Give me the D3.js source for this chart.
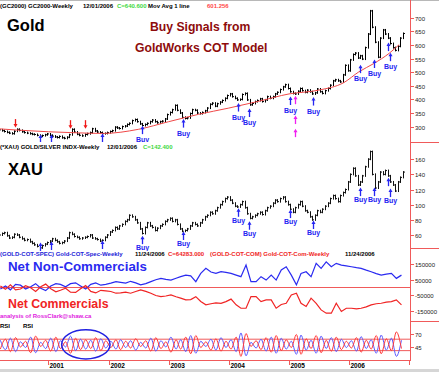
<!DOCTYPE html>
<html>
<head>
<meta charset="utf-8">
<script src="https://cdn.jsdelivr.net/npm/d3@7"></script>
<style>
  body { margin: 0; background: #fff; }
  svg { display: block; font-family: Arial, "Liberation Sans", sans-serif; }
</style>
</head>
<body>
<svg id="chart" width="439" height="372"></svg>
<script>
// semi-monthly gold closes, Mar 2000 .. Nov 2006
const goldClose = [
  288, 285, 282, 279, 276, 274, 283, 290, 286, 281, 278, 276, 274, 272, 271, 268, 265, 267, 270, 273,
  268, 265, 262, 260, 264, 259, 257, 261, 270, 290, 280, 272, 268, 266, 271, 274, 278, 292, 284, 280, 278, 274, 275, 278,
  282, 285, 298, 295, 293, 300, 302, 308, 312, 322, 326, 318, 310, 304, 308, 312, 318, 324, 318, 314, 318, 320, 328, 344,
  352, 362, 378, 360, 350, 334, 330, 332, 348, 362, 360, 350, 348, 352, 358, 368, 382, 386, 375, 384, 390, 396, 404, 414,
  420, 410, 404, 398, 400, 418, 422, 398, 380, 385, 392, 396, 402, 392, 398, 410, 404, 410, 420, 426, 436, 446, 454, 440,
  428, 422, 420, 430, 440, 432, 426, 434, 428, 420, 424, 438, 428, 422, 432, 440, 452, 468, 472, 468, 464, 490, 525, 505,
  545, 565, 570, 552, 560, 548, 590, 640, 725, 665, 610, 555, 625, 655, 640, 625, 605, 590, 580, 595, 625, 642
]
// semi-monthly XAU closes, same dates
const xauClose = [
  60, 62, 63, 59, 56, 57, 61, 60, 57, 55, 53, 54, 51, 49, 47, 45, 43, 46, 48, 50,
  52, 55, 53, 51, 49, 50, 52, 56, 63, 61, 58, 57, 55, 56, 57, 58, 60, 56, 55, 54, 52, 53, 57, 60,
  64, 66, 70, 68, 72, 74, 78, 80, 86, 84, 80, 76, 68, 62, 70, 76, 72, 70, 66, 69, 72, 74, 78, 80,
  82, 78, 80, 74, 68, 65, 66, 68, 72, 76, 74, 72, 76, 80, 84, 86, 90, 88, 92, 96, 100, 104, 108, 110,
  106, 102, 98, 97, 100, 104, 96, 88, 82, 84, 86, 88, 90, 87, 92, 96, 98, 102, 106, 104, 108, 110, 104, 100,
  94, 90, 96, 100, 104, 98, 92, 90, 84, 80, 86, 92, 90, 94, 98, 102, 108, 112, 108, 104, 112, 116, 120, 130,
  140, 148, 138, 126, 130, 138, 150, 160, 170, 140, 122, 130, 143, 140, 145, 138, 130, 126, 118, 130, 136, 143
]
// gold moving average, read at a few dates
const maMonths = ['2000-03', '2000-07', '2001-01', '2001-07', '2001-12', '2002-07', '2003-01', '2003-07',
  '2004-01', '2004-07', '2005-01', '2005-07', '2005-12', '2006-03', '2006-06', '2006-09', '2006-11']
const maValues = [292, 287, 281, 277, 275, 290, 318, 345, 368, 393, 420, 434, 462, 501, 532, 569, 601]

// monthly COT net positions (thousands), Mar 2000 .. Nov 2006
const netSpec = [
  -10, 10, -15, 20, 15, -10, 5, 25, -5, -20,
  10, 25, 20, 5, 25, 30, 10, -10, 20, 30, 15, 20,
  28, 38, 33, 28, 40, 30, 17, 25, 38, 50, 59, 52,
  48, 60, 70, 80, 75, 38, 91, 124, 100, 91, 102, 98,
  91, 80, 70, 145, 38, 38, 70, 48, 80, 48, 113, 134,
  80, 17, 91, 102, 70, 156, 124, 166, 134, 156, 145, 140,
  134, 128, 124, 112, 102, 90, 80, 86, 91, 59, 80
]
const netComm = [
  10, -12, 18, -15, -10, 12, -2, -25, 5, 22,
  -8, -28, -18, -5, -30, -32, -8, 12, -25, -35, -18, -22,
  -26, -37, -35, -30, -37, -26, -15, -25, -37, -52, -59, -55,
  -48, -60, -69, -80, -78, -59, -90, -112, -105, -100, -102, -91,
  -75, -112, -134, -134, -59, -59, -91, -80, -80, -134, -110, -102,
  -48, -37, -102, -123, -69, -102, -145, -166, -166, -102, -155, -134,
  -134, -138, -134, -125, -112, -105, -102, -95, -91, -80, -112
]
// monthly RSI of the two COT series
const rsiSpec = [
  58, 40, 62, 36, 55, 44, 64, 34, 54, 42,
  62, 36, 57, 45, 66, 38, 60, 41, 58, 37, 61, 43,
  56, 41, 59, 44, 57, 39, 54, 43, 62, 37, 57, 45,
  64, 41, 59, 36, 67, 33, 56, 46, 60, 39, 63, 44,
  59, 36, 72, 28, 54, 43, 60, 37, 64, 33, 62, 41,
  56, 31, 68, 39, 58, 33, 66, 42, 63, 36, 60, 44,
  57, 37, 65, 42, 59, 33, 68, 39, 62, 27, 58
]
const rsiComm = [
  41, 60, 36, 63, 45, 56, 34, 66, 46, 58,
  37, 64, 42, 55, 33, 62, 40, 59, 42, 63, 38, 57,
  44, 59, 40, 56, 43, 61, 46, 57, 37, 63, 42, 55,
  35, 59, 41, 64, 32, 67, 44, 55, 39, 61, 37, 56,
  41, 64, 27, 71, 46, 57, 40, 63, 35, 67, 38, 59,
  44, 69, 31, 61, 42, 67, 34, 58, 37, 64, 40, 56,
  43, 63, 35, 58, 41, 67, 32, 61, 38, 74, 42
]
const rsiBands = [60, 38]

// COT buy signals, shown in both price panels
const buyDates = ['2000-11-11', '2001-01-15', '2001-11-23', '2002-07-24', '2003-03-28', '2004-02-25', '2004-05-06',
  '2005-01-05', '2005-05-25', '2006-03-07', '2006-05-31', '2006-08-24', '2006-09-08']
const goldBuyLabeled = [0, 0, 0, 1, 1, 1, 1, 1, 1, 1, 1, 0, 1]
const xauBuyLabeled = [0, 0, 0, 1, 1, 1, 1, 1, 1, 1, 1, 0, 1]
const goldBuyLevels = [254, 254, 258, 287, 311, 370, 350, 394, 392, 511, 530, 592, 555]
const xauBuyLevels = [44.2, 45.5, 46.8, 53.2, 58.7, 89.3, 72.2, 87.6, 73.2, 116.6, 116.6, 129.7, 115.3]
const extraBuyDates = ['2005-02-04', '2005-02-04', '2005-02-04']
const extraBuyLevels = [397, 324, 276]
const sellDates = ['2000-06-12', '2001-05-13', '2001-08-12']
const sellLevels = [313, 309, 309]

const goldTicks = [300, 350, 400, 450, 500, 550, 600, 650, 700]
const xauTicks = [60, 80, 100, 120, 140, 160]
const cotTicks = [150, 50, -50, -150]
const rsiTicks = [70, 45]

const AXIS_RED = '#f05a5a'
const svg = d3.select('#chart')
const parseDay = d3.timeParse('%Y-%m-%d')
const parseMonth = d3.timeParse('%Y-%m')

const halfMonths = d3.range(goldClose.length).map(i => new Date(2000, 2 + Math.floor(i / 2), i % 2 ? 23 : 8))
const months = d3.range(netSpec.length).map(i => new Date(2000, 2 + i, 15))

const x = d3.scaleTime().domain([new Date(2000, 0, 1), new Date(2007, 0, 1)]).range([-11.8, 409.2])
const yGold = d3.scaleLinear().domain([300, 700]).range([126.6, 17.7])
const yXau = d3.scaleLinear().domain([60, 160]).range([235, 159.2])
const yCot = d3.scaleLinear().domain([-150, 150]).range([310.7, 264.3])
const yRsi = d3.scaleLinear().domain([45, 70]).range([347, 334])

const defs = svg.append('defs')
function clip (id, y0, y1) {
  defs.append('clipPath').attr('id', id)
    .append('rect').attr('x', 0).attr('y', y0).attr('width', 410).attr('height', y1 - y0)
  return svg.append('g').attr('clip-path', `url(#${id})`)
}

function text (g, str, px, py, opts = {}) {
  return g.append('text')
    .attr('x', px).attr('y', py)
    .attr('font-size', opts.size || 6)
    .attr('font-weight', opts.weight || 'bold')
    .attr('fill', opts.fill || '#000')
    .attr('text-anchor', opts.anchor || 'start')
    .text(str)
}

// frame line on top
svg.append('line').attr('x1', 0).attr('x2', 439).attr('y1', 0.5).attr('y2', 0.5).attr('stroke', '#b8b8b8')

// ---- bars
function drawBars (g, vals, y, color) {
  g.append('g').selectAll('line').data(vals).join('line')
    .attr('x1', (d, i) => Math.round(x(halfMonths[i])) + 0.5)
    .attr('x2', (d, i) => Math.round(x(halfMonths[i])) + 0.5)
    .attr('y1', (d, i) => y(Math.max(d, i ? vals[i - 1] : d)) - 1)
    .attr('y2', (d, i) => y(Math.min(d, i ? vals[i - 1] : d)) + 1)
    .attr('stroke', color).attr('stroke-width', 1)
  g.append('g').selectAll('line').data(vals).join('line')
    .attr('x1', (d, i) => Math.round(x(halfMonths[i])) + 1)
    .attr('x2', (d, i) => Math.round(x(halfMonths[i])) + 2)
    .attr('y1', d => y(d)).attr('y2', d => y(d))
    .attr('stroke', color).attr('stroke-width', 1)
}

function upArrow (g, px, py, color) {
  g.append('path')
    .attr('d', `M${px},${py + 4}V${py - 2}`)
    .attr('stroke', color).attr('stroke-width', 1.3)
  g.append('path')
    .attr('d', `M${px - 2},${py - 1}L${px},${py - 4.5}L${px + 2},${py - 1}Z`)
    .attr('fill', color)
}
function downArrow (g, px, py, color) {
  g.append('path')
    .attr('d', `M${px},${py - 4}V${py + 2}`)
    .attr('stroke', color).attr('stroke-width', 1.3)
  g.append('path')
    .attr('d', `M${px - 2},${py + 1}L${px},${py + 4.5}L${px + 2},${py + 1}Z`)
    .attr('fill', color)
}

function drawBuys (g, levels, labeled, y, gap) {
  buyDates.forEach((s, i) => {
    const px = Math.round(x(parseDay(s))) + 0.5
    const py = y(levels[i])
    upArrow(g, px, py, '#2626f2')
    if (labeled[i]) text(g, 'Buy', px, py + gap, { size: 7, fill: '#2626f2', anchor: 'middle' })
  })
}

// ---- gold panel
const gGold = clip('cg', 9, 142)
drawBars(gGold, goldClose, yGold, '#000')
gGold.append('path')
  .datum(maMonths.map((m, i) => [parseMonth(m), maValues[i]]))
  .attr('fill', 'none').attr('stroke', '#f04848').attr('stroke-width', 1)
  .attr('d', d3.line().x(d => x(d[0])).y(d => yGold(d[1])).curve(d3.curveMonotoneX))
drawBuys(gGold, goldBuyLevels, goldBuyLabeled, yGold, 12)
extraBuyDates.forEach((s, i) => upArrow(gGold, Math.round(x(parseDay(s))) + 0.5, yGold(extraBuyLevels[i]), '#f020f0'))
sellDates.forEach((s, i) => downArrow(gGold, Math.round(x(parseDay(s))) + 0.5, yGold(sellLevels[i]), '#f01818'))

// ---- xau panel
const gXau = clip('cx', 150, 251)
drawBars(gXau, xauClose, yXau, '#111')
drawBuys(gXau, xauBuyLevels, xauBuyLabeled, yXau, 10)

// ---- cot panel
const gCot = clip('cc', 257, 321)
gCot.append('line').attr('x1', 0).attr('x2', 410)
  .attr('y1', yCot(0)).attr('y2', yCot(0)).attr('stroke', AXIS_RED)
const cotLine = d3.line().x((d, i) => x(months[i])).y(d => yCot(d))
gCot.append('path').datum(netSpec).attr('fill', 'none')
  .attr('stroke', '#2a2af0').attr('stroke-width', 1.2).attr('d', cotLine)
gCot.append('path').datum(netComm).attr('fill', 'none')
  .attr('stroke', '#f02424').attr('stroke-width', 1.2).attr('d', cotLine)

// ---- rsi panel
const gRsi = clip('cr', 328, 361)
rsiBands.forEach(v => {
  gRsi.append('line').attr('x1', 0).attr('x2', 410)
    .attr('y1', yRsi(v)).attr('y2', yRsi(v)).attr('stroke', AXIS_RED)
})
const rsiLine = d3.line().x((d, i) => x(months[i])).y(d => yRsi(d)).curve(d3.curveMonotoneX)
gRsi.append('path').datum(rsiSpec).attr('fill', 'none')
  .attr('stroke', '#5a5aff').attr('stroke-width', 1).attr('d', rsiLine)
gRsi.append('path').datum(rsiComm).attr('fill', 'none')
  .attr('stroke', '#ff3838').attr('stroke-width', 1).attr('d', rsiLine)
const e0 = x(parseDay('2001-03-22'))
const e1 = x(parseDay('2002-01-10'))
svg.append('ellipse')
  .attr('cx', (e0 + e1) / 2).attr('cy', (yRsi(78) + yRsi(22)) / 2)
  .attr('rx', (e1 - e0) / 2).attr('ry', (yRsi(22) - yRsi(78)) / 2)
  .attr('fill', 'none').attr('stroke', '#2020e0').attr('stroke-width', 1.5)

// ---- right axis and separators
svg.append('line').attr('x1', 410.5).attr('x2', 410.5).attr('y1', 0).attr('y2', 361).attr('stroke', AXIS_RED)
;[142, 248, 321].forEach(v => {
  svg.append('line').attr('x1', 410).attr('x2', 439).attr('y1', v + 0.5).attr('y2', v + 0.5).attr('stroke', AXIS_RED)
})
function rightAxis (ticks, y, fmt) {
  ticks.forEach(t => {
    const py = Math.round(y(t)) + 0.5
    svg.append('line').attr('x1', 410).attr('x2', 414).attr('y1', py).attr('y2', py).attr('stroke', AXIS_RED)
    text(svg, fmt ? fmt(t) : t, 415, py + 2.2, { weight: 'normal', fill: '#222' })
  })
}
rightAxis(goldTicks, yGold)
rightAxis(xauTicks, yXau)
rightAxis(cotTicks, yCot, d => d * 1000)
rightAxis(rsiTicks, yRsi)

// ---- time axis
svg.append('line').attr('x1', 0).attr('x2', 410).attr('y1', 360.5).attr('y2', 360.5).attr('stroke', AXIS_RED)
d3.timeYear.range(new Date(2001, 0, 1), new Date(2007, 0, 2)).forEach(d => {
  const px = Math.round(x(d)) + 0.5
  svg.append('line').attr('x1', px).attr('x2', px).attr('y1', 360).attr('y2', 365).attr('stroke', AXIS_RED)
  if (d.getFullYear() < 2007) text(svg, d.getFullYear(), px + 1, 367.5, { size: 6.5 })
})
svg.append('rect').attr('x', 0).attr('y', 369).attr('width', 439).attr('height', 3).attr('fill', '#d6d6d6')

// ---- header texts
text(svg, '(GC2000) GC2000-Weekly', 0, 8)
text(svg, '12/01/2006', 83, 8)
text(svg, 'C=640.600', 117, 8, { fill: '#3ed83e' })
text(svg, 'Mov Avg 1 line', 148, 8)
text(svg, '601.256', 207, 8, { fill: '#ff4848' })

text(svg, 'Gold', 7, 31, { size: 16.5 })
text(svg, 'Buy Signals from', 150, 31, { size: 12.2, fill: '#8e0c0c' })
text(svg, 'GoldWorks COT Model', 135, 52, { size: 12.2, fill: '#8e0c0c' })

text(svg, '(*XAU) GOLD/SILVER INDX-Weekly', 0, 149)
text(svg, '12/01/2006', 107, 149)
text(svg, 'C=142.400', 143, 149, { fill: '#3ed83e' })
text(svg, 'XAU', 8, 175, { size: 16.5 })

text(svg, '(GOLD-COT-SPEC) Gold-COT-Spec-Weekly', 0, 256, { fill: '#2323d8' })
text(svg, '11/24/2006', 135, 256)
text(svg, 'C=64283.000', 168, 256, { fill: '#f02424' })
text(svg, '(GOLD-COT-COM) Gold-COT-Com-Weekly', 210, 256, { fill: '#f02424' })
text(svg, '11/24/2006', 345, 256)
text(svg, 'Net Non-Commercials', 8, 271, { size: 13.3, fill: '#2a2af0' })
text(svg, 'Net Commercials', 8, 308, { size: 12.3, fill: '#f02424' })
text(svg, 'analysis of RossClark@shaw.ca', 0, 318, { fill: '#e020e0' })
text(svg, 'RSI', 0, 327.5)
text(svg, 'RSI', 23, 327.5)
</script>
</body>
</html>
